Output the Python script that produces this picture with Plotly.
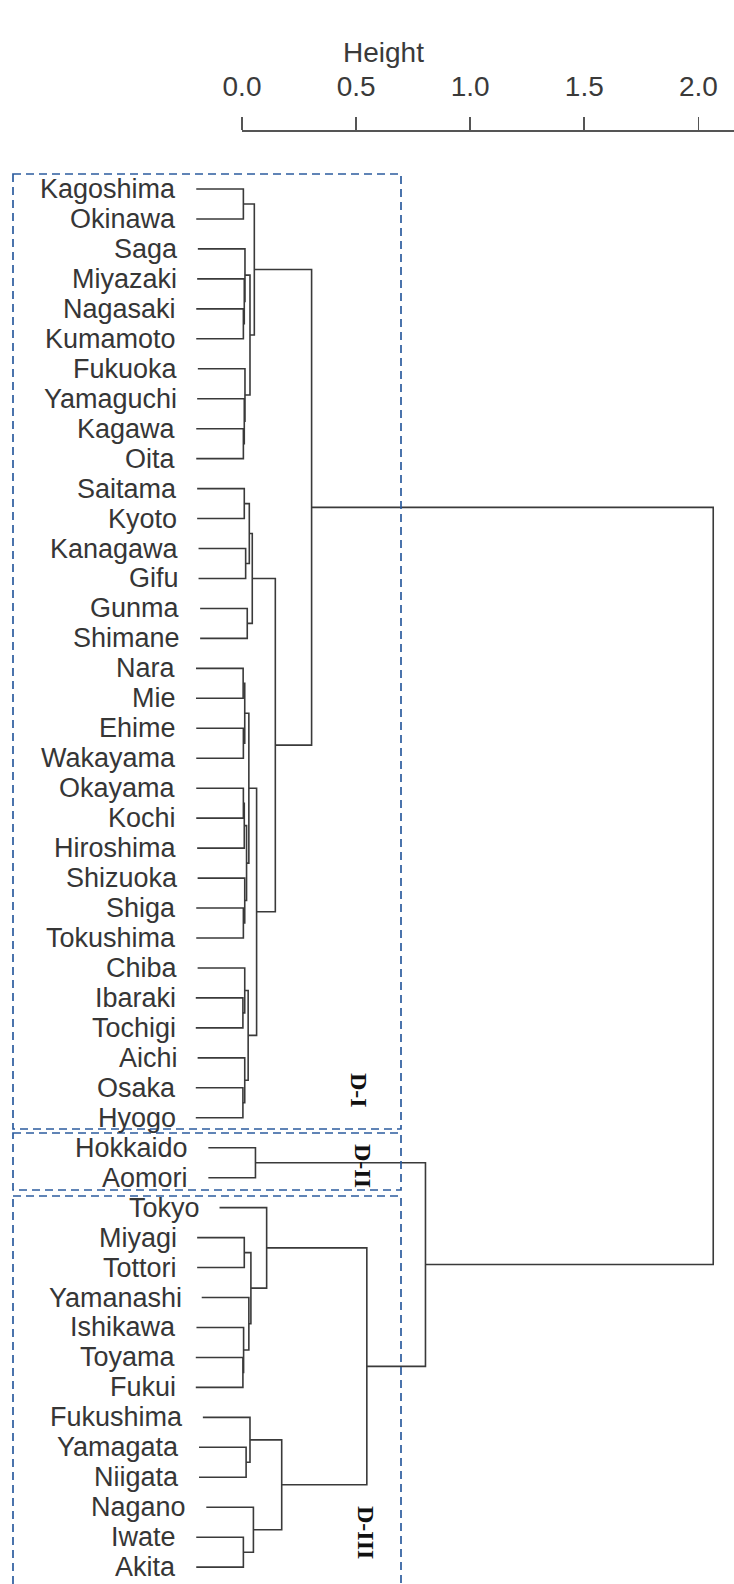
import plotly.graph_objects as go

# ---------------- data ----------------
leaves = ["Kagoshima", "Okinawa", "Saga", "Miyazaki", "Nagasaki", "Kumamoto",
          "Fukuoka", "Yamaguchi", "Kagawa", "Oita", "Saitama", "Kyoto",
          "Kanagawa", "Gifu", "Gunma", "Shimane", "Nara", "Mie", "Ehime",
          "Wakayama", "Okayama", "Kochi", "Hiroshima", "Shizuoka", "Shiga",
          "Tokushima", "Chiba", "Ibaraki", "Tochigi", "Aichi", "Osaka", "Hyogo",
          "Hokkaido", "Aomori", "Tokyo", "Miyagi", "Tottori", "Yamanashi",
          "Ishikawa", "Toyama", "Fukui", "Fukushima", "Yamagata", "Niigata",
          "Nagano", "Iwate", "Akita"]

# merge steps: a leaf name, or the integer index of an earlier merge
merge_a = ["Kagoshima", "Nagasaki", "Miyazaki", "Saga", "Kagawa", "Yamaguchi",
           "Fukuoka", 3, 0, "Saitama", "Kanagawa", 9, "Gunma", 11, "Nara",
           "Ehime", 14, "Okayama", 17, "Shiga", "Shizuoka", 18, 16, "Ibaraki",
           "Chiba", "Osaka", "Aichi", 24, 22, 13, 8, "Hokkaido", "Miyagi",
           "Toyama", "Ishikawa", "Yamanashi", 32, "Tokyo", "Yamagata",
           "Fukushima", "Iwate", "Nagano", 39, 37, 31, 30]
merge_b = ["Okinawa", "Kumamoto", 1, 2, "Oita", 4, 5, 6, 7, "Kyoto", "Gifu",
           10, "Shimane", 12, "Mie", "Wakayama", 15, "Kochi", "Hiroshima",
           "Tokushima", 19, 20, 21, "Tochigi", 23, "Hyogo", 25, 26, 27, 28, 29,
           "Aomori", "Tottori", "Fukui", 33, 34, 35, 36, "Niigata", 38, "Akita",
           40, 41, 42, 43, 44]
merge_h = [0.006, 0.006, 0.010, 0.013, 0.006, 0.010, 0.013, 0.035, 0.054,
           0.010, 0.016, 0.032, 0.023, 0.045, 0.005, 0.006, 0.012, 0.006,
           0.010, 0.006, 0.012, 0.020, 0.030, 0.004, 0.012, 0.004, 0.012,
           0.027, 0.064, 0.146, 0.305, 0.059, 0.010, 0.004, 0.007, 0.030,
           0.039, 0.108, 0.018, 0.035, 0.006, 0.050, 0.174, 0.547, 0.804,
           2.065]

groups = ["D-I", "D-II", "D-III"]

tick_vals = [0.0, 0.5, 1.0, 1.5, 2.0]
tick_text = ["0.0", "0.5", "1.0", "1.5", "2.0"]

# ---------------- geometry (pixels) ----------------
W, H = 734, 1584
TOP = 132                     # axis line = top of plotting area
X0_PX, UNIT_PX = 242, 228.2   # pixel of height 0, pixels per height unit
Y0_PX, ROW_PX = 189, 29.96    # pixel of first leaf, row spacing


def hx(px):   # pixel x -> height units
    return (px - X0_PX) / UNIT_PX


def ry(py):   # pixel y -> row units
    return (py - Y0_PX) / ROW_PX


x_lo, x_hi = hx(0), hx(W)
y_top, y_bot = ry(TOP), ry(H)

hang = 0.1 * max(merge_h)
leaf_pos = {name: i for i, name in enumerate(leaves)}

node_y = []
xs, ys = [], []
label_x = {}


def child(c, h):
    if isinstance(c, str):
        label_x[c] = h - hang
        return leaf_pos[c], h - hang
    return node_y[c], merge_h[c]


for a, b, h in zip(merge_a, merge_b, merge_h):
    ya, ha = child(a, h)
    yb, hb = child(b, h)
    xs += [ha, h, h, hb, None]
    ys += [ya, ya, yb, yb, None]
    node_y.append((ya + yb) / 2)

fig = go.Figure()
fig.add_trace(go.Scatter(x=xs, y=ys, mode="lines",
                         line=dict(color="#3a3a3a", width=1.6),
                         hoverinfo="skip", showlegend=False))
# helper trace so the height axis is drawn
fig.add_trace(go.Scatter(x=[0], y=[0], xaxis="x2", yaxis="y", mode="markers",
                         marker=dict(opacity=0), hoverinfo="skip",
                         showlegend=False))

annotations = []
for name in leaves:
    annotations.append(dict(x=label_x[name], y=leaf_pos[name], xref="x",
                            yref="y", text=name, showarrow=False,
                            xanchor="right", yanchor="middle", xshift=-18,
                            font=dict(family="Arial, Liberation Sans",
                                      size=27, color="#363636")))

# group boxes (pixel edges) and group labels (pixel centres)
box_top_px = [174, 1133, 1196]
box_bot_px = [1129, 1190, 1600]
lab_x_px = [359, 363, 366]
lab_y_px = [1090, 1166, 1532]
shapes = []
for g, t, b, lx, ly in zip(groups, box_top_px, box_bot_px, lab_x_px, lab_y_px):
    shapes.append(dict(type="rect", xref="x", yref="y", x0=hx(13),
                       x1=hx(401), y0=ry(t), y1=ry(b),
                       line=dict(color="#2c5c9e", width=1.7, dash="8px,5px"),
                       fillcolor="rgba(0,0,0,0)", layer="above"))
    annotations.append(dict(x=hx(lx), y=ry(ly), xref="x", yref="y", text=g,
                            showarrow=False, textangle=90,
                            xanchor="center", yanchor="middle",
                            font=dict(family="Liberation Serif, Times New Roman",
                                      size=24, color="#111111",
                                      weight="bold")))

annotations.append(dict(x=383 / W, y=1 + (TOP - 52.5) / (H - TOP),
                        xref="paper", yref="paper", text="Height",
                        showarrow=False, xanchor="center", yanchor="middle",
                        font=dict(family="Arial, Liberation Sans", size=28,
                                  color="#3a3a3a")))

fig.update_layout(
    width=W, height=H, autosize=False,
    margin=dict(l=0, r=0, t=TOP, b=0, pad=0, autoexpand=False),
    paper_bgcolor="white", plot_bgcolor="rgba(0,0,0,0)",
    xaxis=dict(range=[x_lo, x_hi], visible=False, domain=[0, 1]),
    xaxis2=dict(range=[0, x_hi], domain=[X0_PX / W, 1], anchor="y",
                side="top", showline=True, linecolor="#555555", linewidth=1.6,
                ticks="outside", ticklen=13, tickwidth=1.6,
                tickcolor="#555555", tickvals=tick_vals, ticktext=tick_text,
                tickfont=dict(family="Arial, Liberation Sans", size=28,
                              color="#3a3a3a"),
                ticklabelstandoff=10, automargin=False,
                showgrid=False, zeroline=False),
    yaxis=dict(range=[y_bot, y_top], visible=False, automargin=False),
    shapes=shapes,
    annotations=annotations,
)

fig.write_html("out.html",
               config={"displayModeBar": False, "staticPlot": True},
               post_script="document.body.style.margin='0px';")
